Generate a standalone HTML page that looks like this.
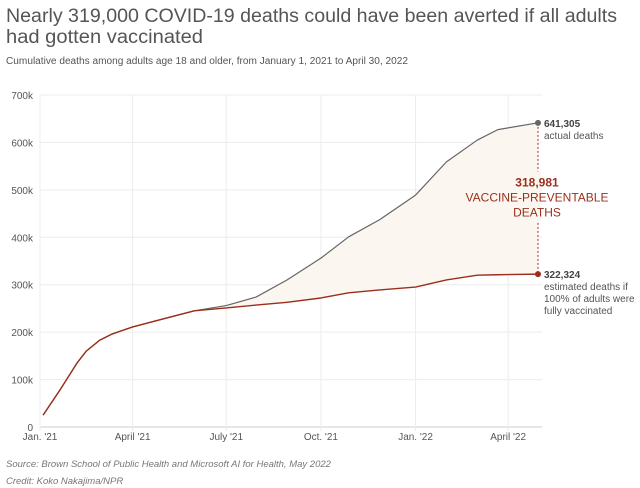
<!DOCTYPE html>
<html><head><meta charset="utf-8"><style>
body{margin:0;background:#fff;}
svg{display:block;font-family:"Liberation Sans",sans-serif;}
</style></head><body>
<svg id="chart" width="640" height="488" viewBox="0 0 640 488" xmlns="http://www.w3.org/2000/svg">
<text x="6" y="22" font-size="19" fill="#555" textLength="611" lengthAdjust="spacingAndGlyphs">Nearly 319,000 COVID-19 deaths could have been averted if all adults</text>
<text x="6" y="43" font-size="19" fill="#555" textLength="197" lengthAdjust="spacingAndGlyphs">had gotten vaccinated</text>
<text x="6" y="64" font-size="10" fill="#555" textLength="402" lengthAdjust="spacingAndGlyphs">Cumulative deaths among adults age 18 and older, from January 1, 2021 to April 30, 2022</text>
<g id="grid"></g><g id="marks"></g><g id="labels"></g>
<text x="6" y="467" font-size="9.5" font-style="italic" fill="#777">Source: Brown School of Public Health and Microsoft AI for Health, May 2022</text>
<text x="6" y="484" font-size="9.5" font-style="italic" fill="#777">Credit: Koko Nakajima/NPR</text>
</svg>
<script>
const days=[3,20,36,45,58,70,90,120,150,181,210,240,273,300,330,365,395,425,445,484];
const actual=[25,80,135,160,183,196,211,228,245,256,274,310,356,401,437,489,559,605,627,641.305];
const vaccinated=[25,80,135,160,183,196,211,228,245,251,257,263,272,283,289,295,310,320,321,322.324];
const yTicks=[0,100,200,300,400,500,600,700];
const yTickLabels=["0","100k","200k","300k","400k","500k","600k","700k"];
const xTickDays=[0,90,181,273,365,455];
const xTickLabels=["Jan. '21","April '21","July '21","Oct. '21","Jan. '22","April '22"];
const NS="http://www.w3.org/2000/svg";
const X0=40,X1=538,D1=484,Y0=427,Y1=95;
const x=d=>X0+d*(X1-X0)/D1;
const y=v=>Y0-v*(Y0-Y1)/700;
function mk(tag,attrs,parent){const e=document.createElementNS(NS,tag);for(const k in attrs)e.setAttribute(k,attrs[k]);parent.appendChild(e);return e;}
const grid=document.getElementById('grid'),marks=document.getElementById('marks'),labels=document.getElementById('labels');
yTicks.forEach((t,i)=>{
 const l=mk('line',{x1:X0,x2:X1+4,y1:y(t),y2:y(t),stroke:i===0?'#ccc':'#ececec','stroke-width':1},grid);
 
 
 const tx=mk('text',{x:33,y:y(t)+4,'font-size':10,fill:'#555','text-anchor':'end'},labels);
 tx.textContent=yTickLabels[i];
 
 
});
xTickDays.forEach((d,i)=>{
 const l=mk('line',{x1:x(d),x2:x(d),y1:Y1,y2:Y0+4,stroke:'#ececec','stroke-width':1},grid);
 
 
 const tx=mk('text',{x:x(d),y:440,'font-size':10,fill:'#555','text-anchor':'middle'},labels);
 tx.textContent=xTickLabels[i];
 
 
});
const ptsA=days.map((d,i)=>x(d)+','+y(actual[i]));
const ptsV=days.map((d,i)=>x(d)+','+y(vaccinated[i]));
const area=mk('polygon',{points:ptsA.concat(ptsV.slice().reverse()).join(' '),fill:'#fbf6ef'},marks);


const la=mk('polyline',{points:ptsA.join(' '),fill:'none',stroke:'#666','stroke-width':1.2,'stroke-linejoin':'round'},marks);


const lv=mk('polyline',{points:ptsV.join(' '),fill:'none',stroke:'#9b2f1c','stroke-width':1.4,'stroke-linejoin':'round'},marks);


const lastA=actual[actual.length-1],lastV=vaccinated[vaccinated.length-1],xe=x(days[days.length-1]);
const dl=mk('line',{x1:xe,x2:xe,y1:y(lastA),y2:y(lastV),stroke:'#9b2f1c','stroke-width':1,'stroke-dasharray':'2,2'},marks);


const ca=mk('circle',{cx:xe,cy:y(lastA),r:3,fill:'#666'},marks);


const cv=mk('circle',{cx:xe,cy:y(lastV),r:3,fill:'#9b2f1c'},marks);


function txt(s,ax,ay,opts,name){const t=mk('text',Object.assign({x:ax,y:ay,'font-size':10,fill:'#555'},opts),labels);t.textContent=s;return t;}
const fmt=v=>Math.round(v*1000).toLocaleString('en-US');
txt(fmt(lastA),544,y(lastA)+4,{'font-weight':'bold',fill:'#444'},'actual-value-label');
txt('actual deaths',544,y(lastA)+16,{},'actual-label');
txt(fmt(lastV),544,y(lastV)+4,{'font-weight':'bold',fill:'#444'},'vaccinated-value-label');
txt('estimated deaths if',544,y(lastV)+16,{},'vaccinated-label-1');
txt('100% of adults were',544,y(lastV)+28,{},'vaccinated-label-2');
txt('fully vaccinated',544,y(lastV)+40,{},'vaccinated-label-3');
const my=(y(lastA)+y(lastV))/2;
const bg=mk('rect',{x:xe-3,y:my-27,width:6,height:50,fill:'#fbf6ef'},labels);


txt(fmt(lastA-lastV),537,my-12,{'font-size':12,'font-weight':'bold',fill:'#9b2f1c','text-anchor':'middle'},'difference-value');
txt('VACCINE-PREVENTABLE',537,my+3,{'font-size':12,fill:'#9b2f1c','text-anchor':'middle'},'difference-label-1');
txt('DEATHS',537,my+18,{'font-size':12,fill:'#9b2f1c','text-anchor':'middle'},'difference-label-2');
</script>
</body></html>
